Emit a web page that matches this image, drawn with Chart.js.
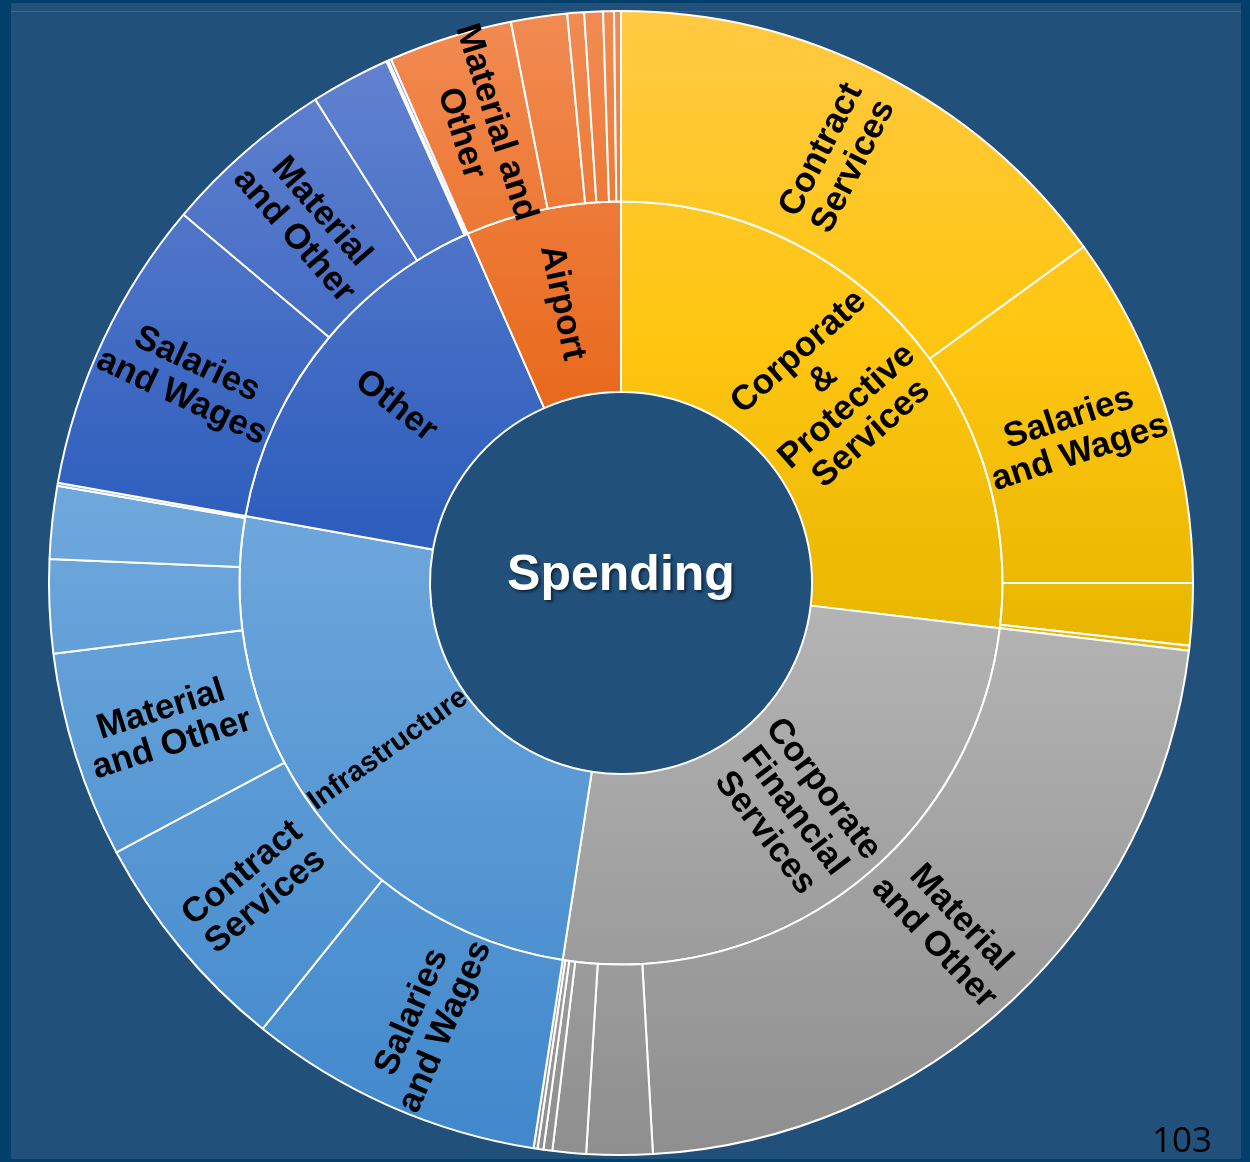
<!DOCTYPE html>
<html>
<head>
<meta charset="utf-8">
<title>Spending</title>
<script src="https://cdn.jsdelivr.net/npm/chart.js@4.4.0/dist/chart.umd.min.js"></script>
<style>
  html, body { margin: 0; padding: 0; width: 1250px; height: 1162px; overflow: hidden; background: #033f6b; }
  #panel { position: absolute; left: 11px; top: 3px; width: 1230px; height: 1156px; background: #21507a; }
  #rule { position: absolute; left: 11px; top: 11px; width: 1230px; height: 1px; background: #3e6689; }
  #spendingChart { position: absolute; left: 0; top: 0; }
  #page { position: absolute; left: 1152px; top: 1115px; font: 35px 'Open Sans', sans-serif; color: #000; }
</style>
</head>
<body>
<div id="panel"></div>
<div id="rule"></div>
<canvas id="spendingChart" width="1250" height="1162"></canvas>
<div id="page">103</div>

<script>
// departments (inner ring)
var departments = ['Corporate & Protective Services', 'Corporate Financial Services', 'Infrastructure', 'Other', 'Airport'];
var departmentLines = [['Corporate', '&', 'Protective', 'Services'], ['Corporate', 'Financial', 'Services'], ['Infrastructure'], ['Other'], ['Airport']];

// spending items (outer ring), grouped by department
var itemDepartment = [0, 0, 0, 0,  1, 1, 1, 1, 1, 1,  2, 2, 2, 2, 2, 2,  3, 3, 3, 3, 3,  4, 4, 4, 4, 4, 4];
var itemNames = [
    'Contract Services', 'Salaries and Wages', 'Other', 'Other',
    'Material and Other', 'Other', 'Other', 'Other', 'Other', 'Other',
    'Salaries and Wages', 'Contract Services', 'Material and Other', 'Other', 'Other', 'Other',
    'Salaries and Wages', 'Material and Other', 'Other', 'Other', 'Other',
    'Material and Other', 'Other', 'Other', 'Other', 'Other', 'Other'
];
var itemLines = [
    ['Contract', 'Services'], ['Salaries', 'and Wages'], [], [],
    ['Material', 'and Other'], [], [], [], [], [],
    ['Salaries', 'and Wages'], ['Contract', 'Services'], ['Material', 'and Other'], [], [], [],
    ['Salaries', 'and Wages'], ['Material', 'and Other'], [], [], [],
    ['Material and', 'Other'], [], [], [], [], []
];
var itemValues = [
    54.0, 36.0, 6.3, 0.5,
    80.0, 6.7, 3.4, 0.9, 0.6, 0.4,
    30.0, 23.1, 21.0, 9.5, 7.4, 0.3,
    30.0, 17.6, 8.1, 0.2, 0.3,
    12.6, 5.7, 1.7, 1.9, 1.1, 0.7
];

// department totals are the sum of their items
var departmentTotals = departments.map(function (d, k) {
    return itemValues.reduce(function (s, v, i) { return itemDepartment[i] === k ? s + v : s; }, 0);
});

// vertical colour ramps per department, stops as fraction of canvas height
var ramps = [
    [[0.00, '#ffc944'], [0.28, '#ffc612'], [0.55, '#e8b600']],
    [[0.52, '#b4b4b4'], [1.00, '#8e8e8e']],
    [[0.40, '#71a9dd'], [1.00, '#3f87cb']],
    [[0.05, '#6282cf'], [0.45, '#2e5ebd']],
    [[0.00, '#f28c54'], [0.36, '#e8681a']]
];
var gradients = [];

function fillFor(context, dept) {
    var chart = context.chart;
    if (!chart.chartArea) return ramps[dept][0][1];
    if (!gradients[dept]) {
        var g = chart.ctx.createLinearGradient(0, 0, 0, chart.height);
        ramps[dept].forEach(function (s) { g.addColorStop(s[0], s[1]); });
        gradients[dept] = g;
    }
    return gradients[dept];
}

var labelStyle = {
    outerSize: 35,
    innerSizes: [35, 35, 29, 35, 35],
    lineGap: 1.04
};

// radial text on each labelled arc, flipped on the left half so it reads upright
var arcLabels = {
    id: 'arcLabels',
    afterDatasetsDraw: function (chart) {
        var c = chart.ctx;
        chart.data.datasets.forEach(function (ds, di) {
            var meta = chart.getDatasetMeta(di);
            meta.data.forEach(function (arc, i) {
                var lines = ds.lines[i];
                if (!lines || !lines.length) return;
                var p = arc.getProps(['x', 'y', 'startAngle', 'endAngle', 'innerRadius', 'outerRadius'], true);
                var mid = (p.startAngle + p.endAngle) / 2;
                var r = (p.innerRadius + p.outerRadius) / 2;
                var rot = Math.cos(mid) < 0 ? mid + Math.PI : mid;
                var size = di === 0 ? labelStyle.outerSize : labelStyle.innerSizes[i];
                var lh = size * labelStyle.lineGap;
                c.save();
                c.translate(p.x + Math.cos(mid) * r, p.y + Math.sin(mid) * r);
                c.rotate(rot);
                c.font = 'bold ' + size + 'px "Liberation Sans", Arial, sans-serif';
                c.fillStyle = '#000';
                c.textAlign = 'center';
                c.textBaseline = 'middle';
                lines.forEach(function (t, k) {
                    c.fillText(t, 0, (k - (lines.length - 1) / 2) * lh);
                });
                c.restore();
            });
        });
    }
};

var centerText = {
    id: 'centerText',
    afterDraw: function (chart) {
        var arc = chart.getDatasetMeta(0).data[0];
        var c = chart.ctx;
        c.save();
        c.font = 'bold 50px "Liberation Sans", Arial, sans-serif';
        c.fillStyle = '#ffffff';
        c.textAlign = 'center';
        c.textBaseline = 'middle';
        c.shadowColor = 'rgba(0, 0, 0, 0.55)';
        c.shadowBlur = 3;
        c.shadowOffsetX = 2;
        c.shadowOffsetY = 2;
        c.fillText('Spending', arc.x, arc.y - 7);
        c.restore();
    }
};

var ctx = document.getElementById('spendingChart').getContext('2d');
var spendingChart = new Chart(ctx, {
    type: 'doughnut',
    data: {
        labels: itemNames,
        datasets: [{
            label: 'Items',
            data: itemValues,
            lines: itemLines,
            backgroundColor: function (c) { return fillFor(c, itemDepartment[c.dataIndex]); },
            borderColor: '#ffffff',
            borderWidth: 2
        }, {
            label: 'Departments',
            data: departmentTotals,
            lines: departmentLines,
            backgroundColor: function (c) { return fillFor(c, c.dataIndex); },
            borderColor: '#ffffff',
            borderWidth: 2
        }]
    },
    options: {
        responsive: false,
        animation: false,
        cutout: '33.4%',
        layout: { padding: { left: 48, right: 56, top: 10, bottom: 6 } },
        plugins: {
            legend: { display: false },
            tooltip: { enabled: false }
        }
    },
    plugins: [arcLabels, centerText]
});
</script>
</body>
</html>
